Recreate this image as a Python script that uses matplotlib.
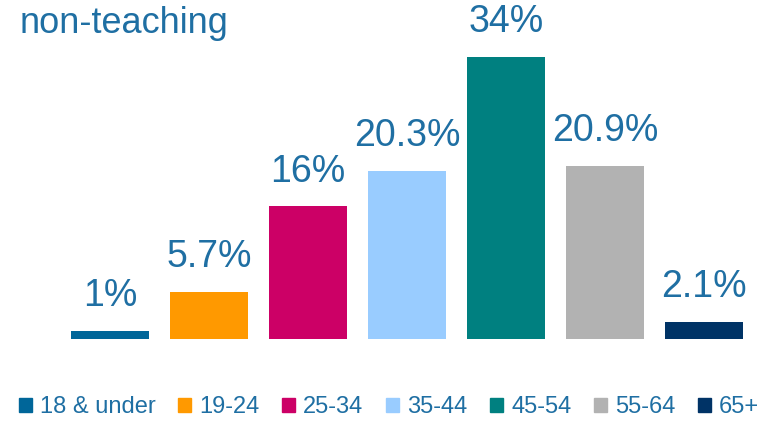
import matplotlib

matplotlib.use("Agg")

import matplotlib.pyplot as plt  # noqa: E402
from matplotlib.patches import Patch  # noqa: E402

age_groups = ["18 & under", "19-24", "25-34", "35-44", "45-54", "55-64", "65+"]
shares = [1.0, 5.7, 16.0, 20.3, 34.0, 20.9, 2.1]
share_labels = ["1%", "5.7%", "16%", "20.3%", "34%", "20.9%", "2.1%"]
colors = ["#006699", "#ff9900", "#cc0066", "#99ccff", "#008080", "#b2b2b2", "#003366"]

TEXT_BLUE = "#1f6fa3"

plt.rcParams["font.family"] = ["Liberation Sans", "DejaVu Sans"]

fig = plt.figure(figsize=(7.7, 4.21), dpi=100)
ax = fig.add_axes([0.0786, 0.1948, 0.9, 0.7877])

x = range(len(age_groups))
bars = ax.bar(x, shares, width=0.79, color=colors)
for bar, lab in zip(bars, share_labels):
    ax.annotate(lab, (bar.get_x() + bar.get_width() / 2, bar.get_height()),
                xytext=(0, 12), textcoords="offset points",
                ha="center", va="bottom", fontsize=27, color=TEXT_BLUE)

ax.set_xlim(-0.5, len(age_groups) - 0.5)
ax.set_ylim(0, 40)
ax.axis("off")

fig.text(20 / 770, 1 - 33 / 421, "non-teaching", fontsize=26, color=TEXT_BLUE,
         ha="left", va="baseline")

handles = [Patch(color=c) for c in colors]
fig.legend(handles, age_groups, loc="center", bbox_to_anchor=(389 / 770, 1 - 407 / 421),
           ncol=len(age_groups), frameon=False, fontsize=17, labelcolor=TEXT_BLUE,
           handlelength=0.55, handleheight=0.55, handletextpad=0.35,
           columnspacing=0.95, borderaxespad=0, borderpad=0)

fig.savefig("out.png", dpi=100)
plt.close(fig)
